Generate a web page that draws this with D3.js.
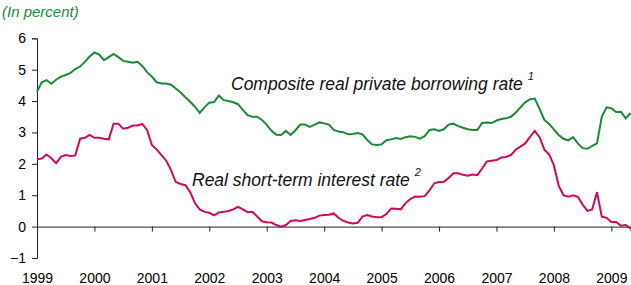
<!DOCTYPE html>
<html>
<head>
<meta charset="utf-8">
<script src="https://cdn.jsdelivr.net/npm/d3@7"></script>
<style>
  body { margin: 0; background: #fff; }
  svg { display: block; font-family: "Liberation Sans", Arial, sans-serif; }
</style>
</head>
<body>
<div id="chart"></div>
<script>
// monthly data, Jan 1999 .. May 2009
var startYear = 1999;
var years = [1999, 2000, 2001, 2002, 2003, 2004, 2005, 2006, 2007, 2008, 2009];
var yTicks = [-1, 0, 1, 2, 3, 4, 5, 6];

var borrowingRate = [4.30, 4.60, 4.67, 4.55, 4.68, 4.78, 4.83, 4.90, 5.02, 5.10, 5.25, 5.42,
  5.55, 5.48, 5.30, 5.40, 5.50, 5.40, 5.28, 5.25, 5.22, 5.25, 5.12, 4.92,
  4.78, 4.60, 4.56, 4.56, 4.52, 4.40, 4.27, 4.12, 3.98, 3.82, 3.62, 3.80,
  3.95, 3.97, 4.18, 4.03, 4.00, 3.96, 3.90, 3.72, 3.55, 3.50, 3.50, 3.40,
  3.24, 3.05, 2.93, 2.92, 3.05, 2.92, 3.07, 3.25, 3.25, 3.18, 3.25, 3.32,
  3.29, 3.25, 3.08, 3.03, 3.01, 2.94, 2.95, 2.98, 2.94, 2.76, 2.62, 2.60,
  2.62, 2.75, 2.78, 2.82, 2.79, 2.85, 2.88, 2.86, 2.80, 2.88, 3.08, 3.10,
  3.05, 3.10, 3.25, 3.28, 3.20, 3.15, 3.10, 3.08, 3.08, 3.30, 3.32, 3.30,
  3.38, 3.43, 3.45, 3.50, 3.63, 3.80, 3.96, 4.06, 4.08, 3.75, 3.40, 3.27,
  3.10, 2.92, 2.80, 2.75, 2.85, 2.65, 2.50, 2.48, 2.57, 2.65, 3.50, 3.80,
  3.77, 3.65, 3.66, 3.45, 3.62];

var shortRate = [2.15, 2.17, 2.30, 2.18, 2.02, 2.22, 2.28, 2.25, 2.27, 2.80, 2.83, 2.92,
  2.83, 2.83, 2.80, 2.78, 3.28, 3.28, 3.12, 3.15, 3.22, 3.22, 3.27, 3.08,
  2.60, 2.46, 2.28, 2.10, 1.80, 1.42, 1.36, 1.32, 1.10, 0.75, 0.55, 0.47,
  0.44, 0.36, 0.45, 0.47, 0.50, 0.55, 0.63, 0.55, 0.46, 0.47, 0.32, 0.17,
  0.14, 0.13, 0.05, 0.00, 0.05, 0.18, 0.20, 0.18, 0.21, 0.24, 0.28, 0.35,
  0.37, 0.38, 0.42, 0.28, 0.18, 0.13, 0.10, 0.12, 0.32, 0.37, 0.32, 0.30,
  0.30, 0.40, 0.58, 0.57, 0.55, 0.75, 0.88, 0.96, 0.95, 0.97, 1.15, 1.38,
  1.42, 1.43, 1.55, 1.70, 1.70, 1.65, 1.62, 1.66, 1.64, 1.85, 2.08, 2.10,
  2.12, 2.20, 2.22, 2.28, 2.45, 2.55, 2.65, 2.86, 3.05, 2.85, 2.45, 2.30,
  1.95, 1.30, 1.00, 0.95, 1.00, 0.95, 0.70, 0.50, 0.55, 1.10, 0.32, 0.28,
  0.15, 0.15, 0.03, 0.05, -0.06];

var green = "#1a8a34", magenta = "#cc0a5c";

var W = 631, H = 285;
var svg = d3.select("#chart").append("svg").attr("width", W).attr("height", H);

var x = d3.scaleLinear().domain([startYear, startYear + (borrowingRate.length - 1) / 12]).range([37, 630.5]);
var y = d3.scaleLinear().domain([-1, 6]).range([258, 38.3]);

// y axis
var yAxis = svg.append("g").attr("transform", "translate(37,0)")
  .call(d3.axisLeft(y).tickValues(yTicks).tickSize(5).tickPadding(6).tickFormat(d3.format("d")));
yAxis.selectAll("text").style("font-size", "14px").attr("fill", "#000");
yAxis.selectAll("line, path").attr("stroke", "#222");

// x axis on zero line
var xAxis = svg.append("g").attr("transform", "translate(0," + y(0) + ")")
  .call(d3.axisBottom(x).tickValues(years).tickSize(5).tickPadding(41).tickFormat(d3.format("d")));
xAxis.selectAll("text").style("font-size", "14px").attr("fill", "#000");
xAxis.selectAll("line, path").attr("stroke", "#222");

var line = d3.line().x(function(d, i) { return x(startYear + i / 12); }).y(function(d) { return y(d); });

svg.append("path").datum(shortRate).attr("d", line)
  .attr("fill", "none").attr("stroke", magenta).attr("stroke-width", 2);
svg.append("path").datum(borrowingRate).attr("d", line)
  .attr("fill", "none").attr("stroke", green).attr("stroke-width", 2);

// unit label
svg.append("text").attr("x", 2).attr("y", 17).text("(In percent)")
  .style("font-size", "15px").style("font-style", "italic").attr("fill", green);

// series labels
var lab1 = svg.append("text").attr("x", 231).attr("y", 90)
  .style("font-size", "17.5px").style("font-style", "italic").attr("fill", "#111");
lab1.append("tspan").text("Composite real private borrowing rate ");
lab1.append("tspan").attr("dy", -10).style("font-size", "11px").text("1");

var lab2 = svg.append("text").attr("x", 192).attr("y", 186)
  .style("font-size", "17.5px").style("font-style", "italic").attr("fill", "#111");
lab2.append("tspan").text("Real short-term interest rate ");
lab2.append("tspan").attr("dy", -10).style("font-size", "11px").text("2");
</script>
</body>
</html>
